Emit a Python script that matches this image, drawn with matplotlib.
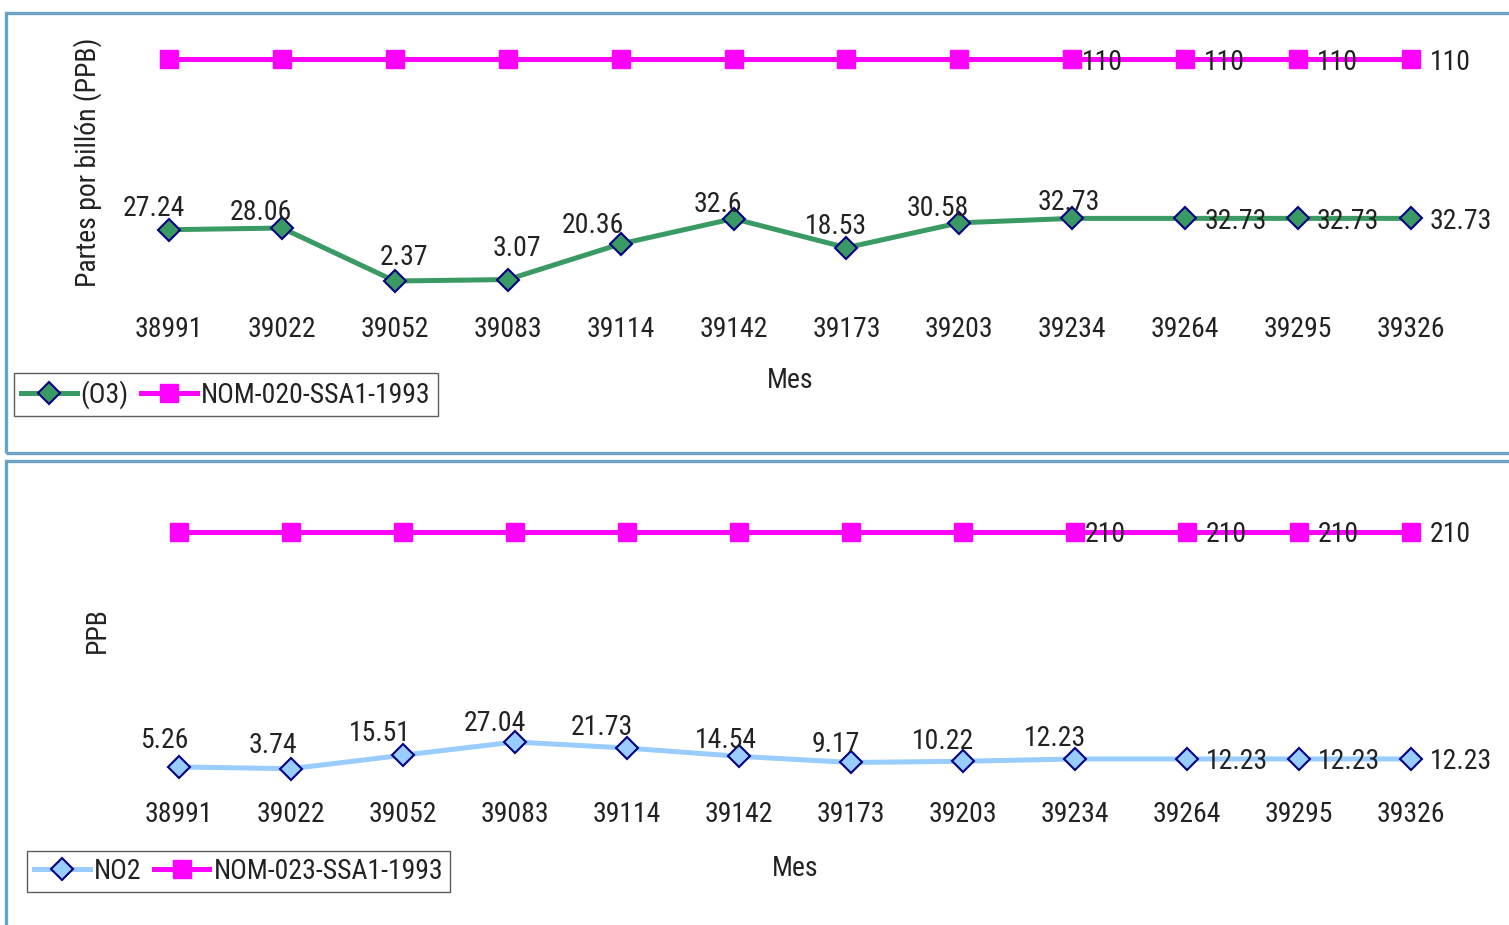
import matplotlib
matplotlib.use("Agg")
import matplotlib.pyplot as plt
from matplotlib import font_manager
from matplotlib.patches import Rectangle

# ---------- data ----------
meses = ["38991", "39022", "39052", "39083", "39114", "39142",
         "39173", "39203", "39234", "39264", "39295", "39326"]

o3 = [27.24, 28.06, 2.37, 3.07, 20.36, 32.6, 18.53, 30.58, 32.73, 32.73, 32.73, 32.73]
nom_o3 = [110] * 12

no2 = [5.26, 3.74, 15.51, 27.04, 21.73, 14.54, 9.17, 10.22, 12.23, 12.23, 12.23, 12.23]
nom_no2 = [210] * 12

# label offsets in pixels (dx, dy), as placed in the original sheet
o3_offsets = [(-15, 24), (-21, 19), (9, 27), (9, 34), (-28, 21), (-16, 17),
              (-11, 24), (-22, 17), (-3, 19)]
no2_offsets = [(-15, 29), (-18, 26), (-23, 25), (-20, 21), (-25, 24), (-13, 19),
               (-15, 21), (-20, 23), (-20, 23)]


# ---------- font: the original uses a narrow sans ----------
def pick_font():
    narrow = {}
    for f in font_manager.fontManager.ttflist:
        st = f.stretch
        is_narrow = ("Narrow" in f.name or "Condensed" in f.name
                     or st in ("condensed", "semi-condensed", "extra-condensed")
                     or (isinstance(st, int) and st < 500))
        if is_narrow and f.style == "normal" and f.weight in (400, "normal", "regular"):
            narrow[f.name] = True
    for name in ["Liberation Sans Narrow", "Arial Narrow", "Roboto Condensed",
                 "Open Sans Condensed", "Roboto", "Open Sans", "DejaVu Sans", "Noto Sans"]:
        if name in narrow:
            return name, "condensed", 20
    return "Liberation Sans", "normal", 18


FAMILY, STRETCH, FS = pick_font()

# ---------- style ----------
W, H = 1509, 925
TXT = "#222222"
GREEN = "#3A9A64"
MAGENTA = "#FF00FF"
LIGHTBLUE = "#99CCFF"
NAVY = "#000080"
FRAME = "#6CA2C6"

plt.rcParams["font.family"] = [FAMILY, "DejaVu Sans"]
plt.rcParams["font.stretch"] = STRETCH


def px_axes(fig, left, top, right, bottom):
    return fig.add_axes([left / W, 1 - bottom / H, (right - left) / W, (bottom - top) / H])


def label_points(ax, xs, ys, offsets, right_dx):
    for i, (x, y) in enumerate(zip(xs, ys)):
        if i < len(offsets):
            dx, dy = offsets[i]
            ax.annotate(f"{y:g}", (x, y), xytext=(dx, dy), textcoords="offset pixels",
                        ha="center", va="center_baseline", fontsize=FS, color=TXT)
        else:
            ax.annotate(f"{y:g}", (x, y), xytext=(right_dx, 0), textcoords="offset pixels",
                        ha="left", va="center_baseline", fontsize=FS, color=TXT)


def label_norm(ax, xs, ys, start):
    for i, (x, y) in enumerate(zip(xs, ys)):
        if i < start:
            continue
        dx = 10 if i == start else 19
        ax.annotate(f"{y:g}", (x, y), xytext=(dx, 0), textcoords="offset pixels",
                    ha="left", va="center_baseline", fontsize=FS, color=TXT)


def draw_panel(ax, values, norm, color, label, norm_label, offsets, ylim, legend_anchor):
    x = list(range(len(meses)))
    ax.plot(x, norm, color=MAGENTA, lw=3.6, marker="s", ms=13.5, mec=MAGENTA,
            mfc=MAGENTA, label=norm_label, zorder=2)
    ax.plot(x, values, color=color, lw=3.6, marker="D", ms=11, mec=NAVY, mew=1.5,
            mfc=color, label=label, zorder=3)
    label_points(ax, x, values, offsets, 19)
    label_norm(ax, x, norm, 8)

    ax.set_xlim(-0.5, len(meses) - 0.5)
    ax.set_ylim(*ylim)
    ax.set_xticks(x)
    ax.set_xticklabels(meses, fontsize=FS, color=TXT)
    ax.set_yticks([])
    ax.tick_params(axis="x", length=0, pad=8)
    for s in ax.spines.values():
        s.set_visible(False)

    handles, labels = ax.get_legend_handles_labels()
    leg = ax.legend(handles[::-1], labels[::-1], ncol=2, fontsize=FS,
                    loc="lower left", bbox_to_anchor=legend_anchor,
                    bbox_transform=ax.figure.transFigure,
                    frameon=True, fancybox=False, edgecolor="#333333",
                    handlelength=2.0, handletextpad=0.15, columnspacing=0.45,
                    borderpad=0.25, borderaxespad=0)
    leg.get_frame().set_linewidth(1.0)
    for t in leg.get_texts():
        t.set_color(TXT)


fig = plt.figure(figsize=(W / 100, H / 100), dpi=100)

# panel frames
fig.add_artist(Rectangle((6 / W, 1 - 453 / H), 1.1, (453 - 13) / H, transform=fig.transFigure,
                         fill=False, edgecolor=FRAME, lw=2.4, clip_on=False))
fig.add_artist(Rectangle((6 / W, -0.1), 1.1, (0.1 + 1 - 461 / H), transform=fig.transFigure,
                         fill=False, edgecolor=FRAME, lw=2.4, clip_on=False))

# top panel: O3
top_scale = 2.0627
top_zero = 285.9
ax1 = px_axes(fig, 112.5, 40, 1467.5, 305)
draw_panel(ax1, o3, nom_o3, GREEN, "(O3)", "NOM-020-SSA1-1993", o3_offsets,
           ((top_zero - 305) / top_scale, (top_zero - 40) / top_scale),
           (14 / W, 1 - 416 / H))
fig.text(790 / W, 1 - 378 / H, "Mes", ha="center", va="center_baseline", fontsize=FS, color=TXT)
fig.text(88 / W, 1 - 162 / H, "Partes por billón (PPB)", ha="center", va="center",
         rotation=90, fontsize=FS, color=TXT)

# bottom panel: NO2
bot_scale = 1.1478
bot_zero = 773.0
ax2 = px_axes(fig, 123, 500, 1467, 790)
draw_panel(ax2, no2, nom_no2, LIGHTBLUE, "NO2", "NOM-023-SSA1-1993", no2_offsets,
           ((bot_zero - 790) / bot_scale, (bot_zero - 500) / bot_scale),
           (27 / W, 1 - 892 / H))
fig.text(795 / W, 1 - 865 / H, "Mes", ha="center", va="center_baseline", fontsize=FS, color=TXT)
fig.text(97 / W, 1 - 630 / H, "PPB", ha="center", va="center",
         rotation=90, fontsize=FS, color=TXT)

fig.savefig("out.png", dpi=100)
